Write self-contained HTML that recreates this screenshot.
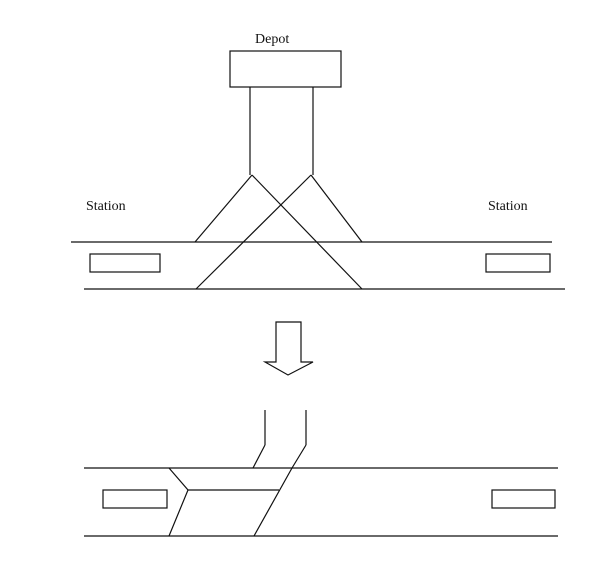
<!DOCTYPE html>
<html><head><style>
html,body{margin:0;padding:0;background:#fff;}
svg{display:block;}
text{font-family:"Liberation Serif",serif;font-size:14px;fill:#111;}
</style></head><body>
<svg width="600" height="579" viewBox="0 0 600 579" xmlns="http://www.w3.org/2000/svg">
<g stroke="#111" stroke-width="1.2" fill="none">
<rect x="230" y="51" width="111" height="36"/>
<line x1="250" y1="87" x2="250" y2="175"/>
<line x1="313" y1="87" x2="313" y2="175"/>
<line x1="252" y1="175" x2="195" y2="242"/>
<line x1="252" y1="175" x2="362" y2="289"/>
<line x1="311" y1="175" x2="362" y2="242"/>
<line x1="311" y1="175" x2="196" y2="289"/>
<line x1="71" y1="242" x2="552" y2="242"/>
<line x1="84" y1="289" x2="565" y2="289"/>
<rect x="90" y="254" width="70" height="18"/>
<rect x="486" y="254" width="64" height="18"/>
<polygon points="276,322 301,322 301,362 313,362 288,375 265,362 276,362"/>
<line x1="265" y1="410" x2="265" y2="445"/>
<line x1="306" y1="410" x2="306" y2="445"/>
<polyline points="265,445 253,468"/>
<polyline points="306,445 292,468 254,536"/>
<line x1="84" y1="468" x2="558" y2="468"/>
<line x1="84" y1="536" x2="558" y2="536"/>
<polyline points="169,468 188,490 169,536"/>
<line x1="188" y1="490" x2="279" y2="490"/>
<rect x="103" y="490" width="64" height="18"/>
<rect x="492" y="490" width="63" height="18"/>
</g>
<text x="255" y="43">Depot</text>
<text x="86" y="210">Station</text>
<text x="488" y="210">Station</text>
</svg>
</body></html>
